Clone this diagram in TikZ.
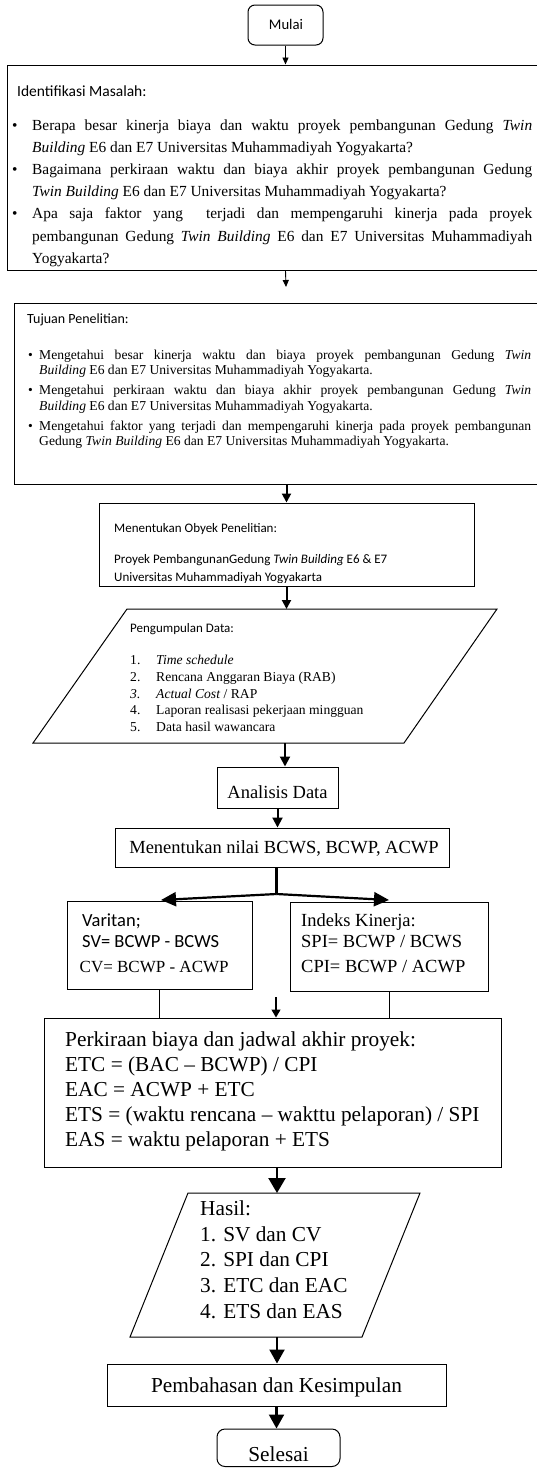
\documentclass[tikz,border=0pt]{standalone}
\usepackage{fontspec}
\setmainfont{Liberation Serif}
\newfontfamily\calfont{Carlito}
\usetikzlibrary{arrows.meta}
\newcommand\bitem[2]{\noindent\hangindent=#1\hangafter=1\hbox to #1{\textbullet\hfil}#2\par}
\begin{document}
\begin{tikzpicture}[x=1pt,y=-1pt,
  box/.style={draw, line width=1pt, inner sep=0pt},
  txt/.style={inner sep=0pt, anchor=base west},
  ctxt/.style={inner sep=0pt, anchor=base},
  arrS/.style={line width=0.9pt, -{Triangle[length=7pt,width=6pt]}},
  arrM/.style={line width=2pt, -{Triangle[length=9pt,width=9pt]}},
  arrN/.style={line width=2pt, -{Triangle[length=10pt,width=10pt]}},
  arrF/.style={line width=1.3pt, -{Triangle[length=8pt,width=9pt]}},
  arrL/.style={line width=2.2pt, -{Triangle[length=14pt,width=15pt]}},
  arrXL/.style={line width=2.2pt, -{Triangle[length=15pt,width=17pt]}},
  arrB/.style={line width=2.2pt, -{Triangle[length=15pt,width=14pt]}},
  plain/.style={line width=1pt},
  cal/.style={font=\calfont\fontsize{#1}{#1}\selectfont},
  tms/.style={font=\fontsize{#1}{#1}\selectfont}
]
\useasboundingbox (0,0) rectangle (537,1468);
\clip (0,0) rectangle (537,1468);

% Mulai
\node[box, rounded corners=7pt, minimum width=75pt, minimum height=40pt] (mulai) at (285.5,25) {};
\node[ctxt, cal=14.7] (tmulai) at (286,29.8) {Mulai};

% Identifikasi
\node[box, minimum width=552.5pt, minimum height=205pt] (ident) at (283.75,167.5) {};
\draw[arrS] (mulai.south) -- (mulai.south |- ident.north);
\node[txt, cal=15.5] (hident) at (17,96) {Identifikasi Masalah:};
\node[txt, text width=520pt, align=justify] (tident) at (12,130) {\fontsize{15.4}{22.2}\selectfont\hyphenpenalty=10000 \tolerance=9999 \hbadness=10000 %
\bitem{20pt}{Berapa besar kinerja biaya dan waktu proyek pembangunan Gedung \textit{Twin}\linebreak \textit{Building} E6 dan E7 Universitas Muhammadiyah Yogyakarta?}%
\bitem{20pt}{Bagaimana perkiraan waktu dan biaya akhir proyek pembangunan Gedung\linebreak \textit{Twin Building} E6 dan E7 Universitas Muhammadiyah Yogyakarta?}%
\bitem{20pt}{Apa saja faktor yang~ terjadi dan mempengaruhi kinerja pada proyek\linebreak pembangunan Gedung \textit{Twin Building} E6 dan E7 Universitas Muhammadiyah\linebreak Yogyakarta?}};

\coordinate (a1) at (286,287);
\draw[arrS] (mulai.south |- ident.south) -- (a1);

% Tujuan
\node[box, minimum width=545.5pt, minimum height=181pt] (tujuan) at (287.25,393.5) {};
\node[txt, cal=14] (htujuan) at (27,323.5) {Tujuan Penelitian:};
\node[txt, text width=503pt, align=justify] (ttujuan) at (28,359.5) {\fontsize{13.6}{15.3}\selectfont\parskip=4.7pt\hyphenpenalty=10000 \tolerance=9999 \hbadness=10000 %
\bitem{11pt}{Mengetahui besar kinerja waktu dan biaya proyek pembangunan Gedung \textit{Twin}\linebreak \textit{Building} E6 dan E7 Universitas Muhammadiyah Yogyakarta.}%
\bitem{11pt}{Mengetahui perkiraan waktu dan biaya akhir proyek pembangunan Gedung \textit{Twin}\linebreak \textit{Building} E6 dan E7 Universitas Muhammadiyah Yogyakarta.}%
\bitem{11pt}{Mengetahui faktor yang terjadi dan mempengaruhi kinerja pada proyek pembangunan\linebreak Gedung \textit{Twin Building} E6 dan E7 Universitas Muhammadiyah Yogyakarta.}};

% Obyek
\node[box, minimum width=375pt, minimum height=83pt] (obyek) at (286.5,544.5) {};
\draw[arrM] (tujuan.south -| obyek.north) -- (obyek.north);
\node[txt, cal=13] (hobyek) at (114,532) {Menentukan Obyek Penelitian:};
\node[txt, cal=13] (tobyek1) at (114,563.5) {Proyek PembangunanGedung \textit{Twin Building} E6 \& E7};
\begin{scope}
\clip (100,560) rectangle (470,582);
\node[txt, cal=13] (tobyek2) at (114,581) {Universitas Muhammadiyah Yogyakarta};
\end{scope}

% Pengumpulan data
\coordinate (pTL) at (127,609);
\coordinate (pTR) at (497,609);
\coordinate (pBR) at (404,743);
\coordinate (pBL) at (33,743);
\draw[plain] (pTL) -- (pTR) -- (pBR) -- (pBL) -- cycle;
\draw[arrM] (obyek.south) -- (obyek.south |- pTL);
\node[txt, cal=13] (hpeng) at (130,632.5) {Pengumpulan Data:};
\node[txt, tms=13.6] (pn1) at (130,664.5) {1.};
\node[txt, tms=13.6] (pt1) at (156,664.5) {\textit{Time schedule}};
\node[txt, tms=13.6] (pn2) at (130,681.5) {2.};
\node[txt, tms=13.6] (pt2) at (156,681.5) {Rencana Anggaran Biaya (RAB)};
\node[txt, tms=13.6] (pn3) at (130,698) {\textit{3.}};
\node[txt, tms=13.6] (pt3) at (156,698) {\textit{Actual Cost} / RAP};
\node[txt, tms=13.6] (pn4) at (130,714.5) {4.};
\node[txt, tms=13.6] (pt4) at (156,714.5) {Laporan realisasi pekerjaan mingguan};
\node[txt, tms=13.6] (pn5) at (130,731.5) {5.};
\node[txt, tms=13.6] (pt5) at (156,731.5) {Data hasil wawancara};

% Analisis Data
\coordinate (pa) at (285,743);
\node[box, minimum width=121pt, minimum height=41pt] (anal) at (277.5,787.5) {};
\draw[arrN] (pa) -- (pa |- anal.north);
\node[ctxt, tms=18.5] (tanal) at (277.5,798) {Analisis Data};

% Menentukan nilai
\node[box, minimum width=334pt, minimum height=39pt] (menent) at (282,847.5) {};
\draw[arrN] (anal.south) -- (anal.south |- menent.north);
\node[ctxt, tms=18.5] (tmenent) at (284,853.5) {Menentukan nilai BCWS, BCWP, ACWP};

% Branch
\coordinate (j) at (276.5,894);
\coordinate (bl) at (161,900);
\coordinate (br) at (389,900);
\draw[line width=2.2pt] (j |- menent.south) -- (j);
\draw[arrB] (j) -- (bl);
\draw[arrB] (j) -- (br);

% Varitan & Indeks
\node[box, minimum width=185pt, minimum height=88pt] (varitan) at (159.5,945) {};
\node[box, minimum width=198pt, minimum height=89pt] (indeks) at (389,946.5) {};
\node[txt, cal=18.5] (tvar1) at (82,926) {Varitan;};
\node[txt, cal=18.5] (tvar2) at (82,947.5) {SV= BCWP - BCWS};
\node[txt, tms=17] (tvar3) at (79.5,972.5) {CV= BCWP - ACWP};
\node[txt, tms=18.5] (tind1) at (301,926) {Indeks Kinerja:};
\node[txt, tms=18.5] (tind2) at (301,947.5) {SPI= BCWP / BCWS};
\node[txt, tms=18.5] (tind3) at (301,972.5) {CPI= BCWP / ACWP};

% Perkiraan
\node[box, minimum width=456.5pt, minimum height=149pt] (perk) at (272.75,1092.5) {};
\draw[plain] (varitan.south) -- (varitan.south |- perk.north);
\draw[plain] (indeks.south) -- (indeks.south |- perk.north);
\coordinate (fa) at (276,997);
\draw[arrF] (fa) -- (fa |- perk.north);
\node[txt, tms=21.3] (tp1) at (65,1046.6) {Perkiraan biaya dan jadwal akhir proyek:};
\node[txt, tms=21.3] (tp2) at (65,1071.5) {ETC = (BAC – BCWP) / CPI};
\node[txt, tms=21.3] (tp3) at (65,1096.4) {EAC = ACWP + ETC};
\node[txt, tms=21.3] (tp4) at (65,1121.3) {ETS = (waktu rencana – wakttu pelaporan) / SPI};
\node[txt, tms=21.3] (tp5) at (65,1146.2) {EAS = waktu pelaporan + ETS};

% Hasil
\coordinate (hTL) at (188,1193);
\coordinate (hTR) at (420,1193);
\coordinate (hBR) at (362,1337);
\coordinate (hBL) at (130,1337);
\draw[plain] (hTL) -- (hTR) -- (hBR) -- (hBL) -- cycle;
\coordinate (ht) at (277,1193);
\draw[arrXL] (perk.south -| ht) -- (ht);
\node[txt, tms=21.3] (th0) at (200,1215.3) {Hasil:};
\node[txt, tms=21.3] (th1) at (200,1241) {1. SV dan CV};
\node[txt, tms=21.3] (th2) at (200,1266.7) {2. SPI dan CPI};
\node[txt, tms=21.3] (th3) at (200,1292.4) {3. ETC dan EAC};
\node[txt, tms=21.3] (th4) at (200,1318) {4. ETS dan EAS};

% Pembahasan
\node[box, minimum width=339pt, minimum height=42pt] (pemb) at (276.5,1385) {};
\coordinate (hb) at (277,1337);
\draw[arrL] (hb) -- (hb |- pemb.north);
\node[ctxt, tms=21.3] (tpemb) at (276.5,1392) {Pembahasan dan Kesimpulan};

% Selesai
\node[box, rounded corners=8pt, minimum width=123pt, minimum height=37.5pt] (selesai) at (278.5,1447.75) {};
\draw[arrL] (pemb.south) -- (pemb.south |- selesai.north);
\node[ctxt, tms=21.3] (tsel) at (278.5,1461.5) {Selesai};
\end{tikzpicture}
\end{document}
